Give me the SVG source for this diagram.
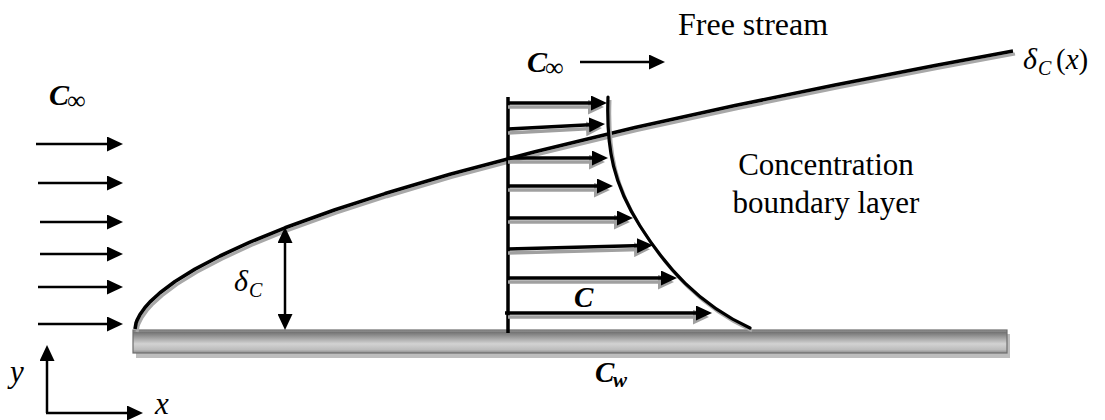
<svg xmlns="http://www.w3.org/2000/svg" width="1105" height="420" viewBox="0 0 1105 420">
<style>
text{font-family:"Liberation Serif","Times New Roman",serif;fill:#000}
.m{font-style:italic}
.b{font-style:italic;font-weight:bold}
.thin{stroke:#000;stroke-width:2.5;fill:none}
.prof{stroke:#000;stroke-width:3.5;fill:none;marker-end:url(#ahb)}
.profs{stroke:#a0a0a0;stroke-width:3.5;fill:none;marker-end:url(#ahs)}
</style>
<defs>
<marker id="ah" markerUnits="userSpaceOnUse" markerWidth="16" markerHeight="15" refX="6" refY="7.5" orient="auto-start-reverse" viewBox="0 0 16 15">
<path d="M0,0 L16,7.5 L0,15 z" fill="#000"/>
</marker>
<marker id="ahb" markerUnits="userSpaceOnUse" markerWidth="16" markerHeight="15" refX="6" refY="7.5" orient="auto" viewBox="0 0 16 15">
<path d="M0,0 L16,7.5 L0,15 z" fill="#000"/>
</marker>
<marker id="ahs" markerUnits="userSpaceOnUse" markerWidth="16" markerHeight="15" refX="6" refY="7.5" orient="auto" viewBox="0 0 16 15">
<path d="M0,0 L16,7.5 L0,15 z" fill="#a0a0a0"/>
</marker>
<linearGradient id="plateg" x1="0" y1="0" x2="0" y2="1">
<stop offset="0" stop-color="#a8a8a8"/>
<stop offset="0.1" stop-color="#747474"/>
<stop offset="0.6" stop-color="#d2d2d2"/>
<stop offset="0.85" stop-color="#bdbdbd"/>
<stop offset="1" stop-color="#8a8a8a"/>
</linearGradient>
<path id="bl" d="M135,329 L136,323.2 L137,320.4 L140,314.5 L145,307.5 L150,301.9 L160,292.7 L175,281.5 L195,269.1 L220,256 L250,242.1 L285,227.8 L335,209.8 L385,193.6 L450,174.3 L535,151.7 L635,127.5 L735,105.6 L835,84.9 L935,65.4 L1013,51"/>
<path id="pc" d="M608,97 C606,150 614,185 640,226 S698,304 750,328"/>
</defs>

<g id="plate">
<rect x="136" y="334" width="874" height="24" fill="#bdbdbd"/>
<rect x="133" y="330" width="874" height="23" fill="url(#plateg)" stroke="#6e6e6e" stroke-width="1.2"/>
</g>

<g id="boundary-curve">
<use href="#bl" transform="translate(2,3)" fill="none" stroke="#a8a8a8" stroke-width="3.2" stroke-linejoin="round"/>
<use href="#bl" fill="none" stroke="#000" stroke-width="3.6" stroke-linejoin="round"/>
</g>

<g id="profile">
<use href="#pc" transform="translate(2,3)" fill="none" stroke="#a8a8a8" stroke-width="3"/>
<use href="#pc" fill="none" stroke="#000" stroke-width="3.2" stroke-linecap="round"/>
<line x1="508" y1="97" x2="508" y2="333" stroke="#000" stroke-width="3.5"/>
</g>

<g id="connectors">
<g id="profile-arrow-shadows" transform="translate(-3,4)">
<line class="profs" x1="511" y1="103" x2="597" y2="103"/>
<line class="profs" x1="511" y1="129" x2="595" y2="124.5"/>
<line class="profs" x1="511" y1="158" x2="598" y2="158"/>
<line class="profs" x1="511" y1="186" x2="603" y2="186"/>
<line class="profs" x1="511" y1="218" x2="623" y2="218"/>
<line class="profs" x1="511" y1="249" x2="643" y2="245.5"/>
<line class="profs" x1="511" y1="278" x2="667" y2="278"/>
<line class="profs" x1="511" y1="313" x2="702" y2="313"/>
</g>
<line class="prof" x1="508" y1="103" x2="597" y2="103"/>
<line class="prof" x1="508" y1="129" x2="595" y2="124.5"/>
<line class="prof" x1="508" y1="158" x2="598" y2="158"/>
<line class="prof" x1="508" y1="186" x2="603" y2="186"/>
<line class="prof" x1="508" y1="218" x2="623" y2="218"/>
<line class="prof" x1="508" y1="249" x2="643" y2="245.5"/>
<line class="prof" x1="508" y1="278" x2="667" y2="278"/>
<line class="prof" x1="505" y1="313" x2="702" y2="313"/>

<line class="thin" x1="36" y1="144" x2="113" y2="144" marker-end="url(#ah)"/>
<line class="thin" x1="38" y1="183" x2="113" y2="183" marker-end="url(#ah)"/>
<line class="thin" x1="40" y1="222" x2="113" y2="222" marker-end="url(#ah)"/>
<line class="thin" x1="40" y1="254" x2="113" y2="254" marker-end="url(#ah)"/>
<line class="thin" x1="38" y1="287" x2="113" y2="287" marker-end="url(#ah)"/>
<line class="thin" x1="38" y1="324" x2="113" y2="324" marker-end="url(#ah)"/>

<line class="thin" x1="580" y1="62" x2="655" y2="62" marker-end="url(#ah)"/>

<line class="thin" x1="285" y1="237" x2="285" y2="320" marker-start="url(#ah)" marker-end="url(#ah)"/>

<line class="thin" x1="47" y1="413" x2="47" y2="355" marker-end="url(#ah)"/>
<line class="thin" x1="46" y1="413" x2="133" y2="413" marker-end="url(#ah)"/>
</g>

<g id="labels">
<text x="678" y="35" font-size="32">Free stream</text>
<text x="826" y="175" font-size="31" text-anchor="middle">Concentration</text>
<text x="826" y="213" font-size="31" text-anchor="middle">boundary layer</text>

<text class="b" x="49" y="105" font-size="30">C</text>
<text x="67" y="109" font-size="26">∞</text>

<text class="b" x="527" y="72" font-size="30">C</text>
<text x="545" y="76" font-size="26">∞</text>

<text class="m" x="1023" y="69" font-size="30">δ</text>
<text class="m" x="1038" y="75" font-size="20">C</text>
<text x="1056" y="69" font-size="29">(<tspan class="m">x</tspan>)</text>

<text class="m" x="234" y="291" font-size="30">δ</text>
<text class="m" x="249" y="297" font-size="20">C</text>

<text class="b" x="574" y="307" font-size="29">C</text>

<text class="b" x="595" y="382" font-size="29">C</text>
<text class="b" x="613" y="387" font-size="21">w</text>

<text class="m" x="10" y="382" font-size="31">y</text>
<text class="m" x="155" y="414" font-size="31">x</text>
</g>
</svg>
